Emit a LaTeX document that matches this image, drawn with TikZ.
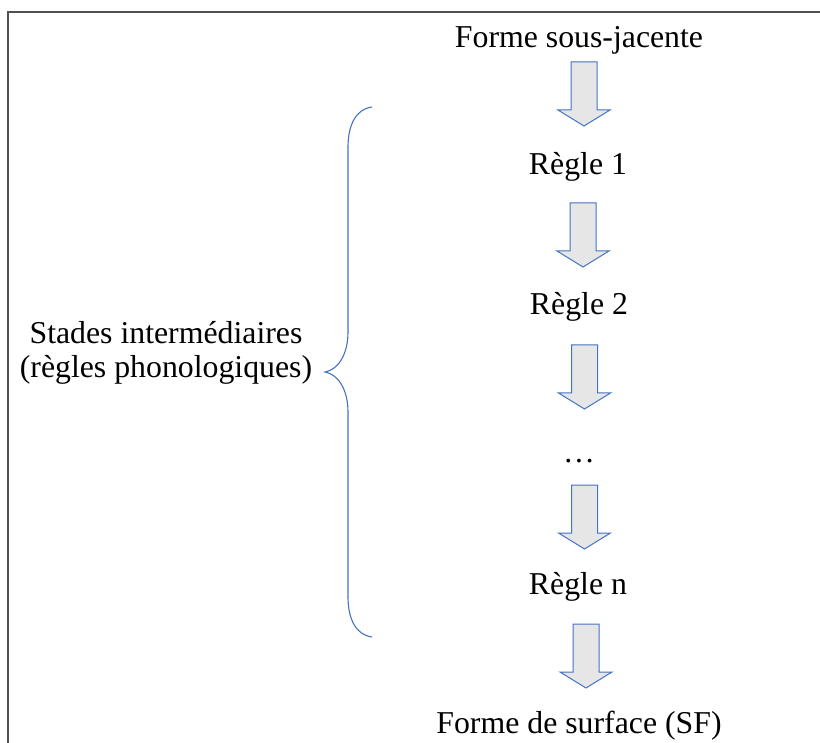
\documentclass[tikz,border=0pt]{standalone}
\usepackage{fontspec}
\setmainfont{Liberation Serif}
\definecolor{braceblue}{HTML}{4472C4}
\definecolor{arrowfill}{HTML}{E6E6E6}
\definecolor{framegray}{HTML}{505050}
\tikzset{
  lbl/.style={anchor=base, inner sep=0pt, font=\fontsize{31.8}{36}\selectfont, text=black},
  blockarrow/.style={draw=braceblue, fill=arrowfill, line width=1pt, line join=miter},
  framestyle/.style={draw=framegray, line width=1.2pt},
  bracestyle/.style={draw=braceblue, line width=1.1pt}
}
\begin{document}
\begin{tikzpicture}[x=1pt,y=-1pt]
\useasboundingbox (0,0) rectangle (820,743);
% frame
\draw[framestyle] (820,12) -- (8,12) -- (8,743);
% texts
\node[lbl] (fsj) at (579,48) {Forme sous-jacente};
\node[lbl] (r1) at (578,175) {Règle 1};
\node[lbl] (r2) at (579,315) {Règle 2};
\node[lbl] (dots) at (579,462) {…};
\node[lbl] (rn) at (578,594) {Règle n};
\node[lbl] (sf) at (579,733) {Forme de surface (SF)};
\node[lbl] (st1) at (166,344) {Stades intermédiaires};
\node[lbl] (st2) at (166,378) {(règles phonologiques)};
% block arrows
\foreach \cx/\ty [count=\i] in {584/62, 583/203, 584.5/345, 584.5/485, 586/624}{
  \draw[blockarrow] (\cx-13,\ty) -- (\cx+13,\ty) -- (\cx+13,\ty+48) -- (\cx+26,\ty+48)
     -- (\cx,\ty+64) -- (\cx-26,\ty+48) -- (\cx-13,\ty+48) -- cycle;
}
% brace
\draw[bracestyle] (372,107) .. controls (356,109) and (348,125) .. (348,147)
  -- (348,332) .. controls (348,356) and (337,370) .. (325,372)
  .. controls (337,374) and (348,388) .. (348,412)
  -- (348,597) .. controls (348,619) and (356,635) .. (372,637);
\end{tikzpicture}
\end{document}
